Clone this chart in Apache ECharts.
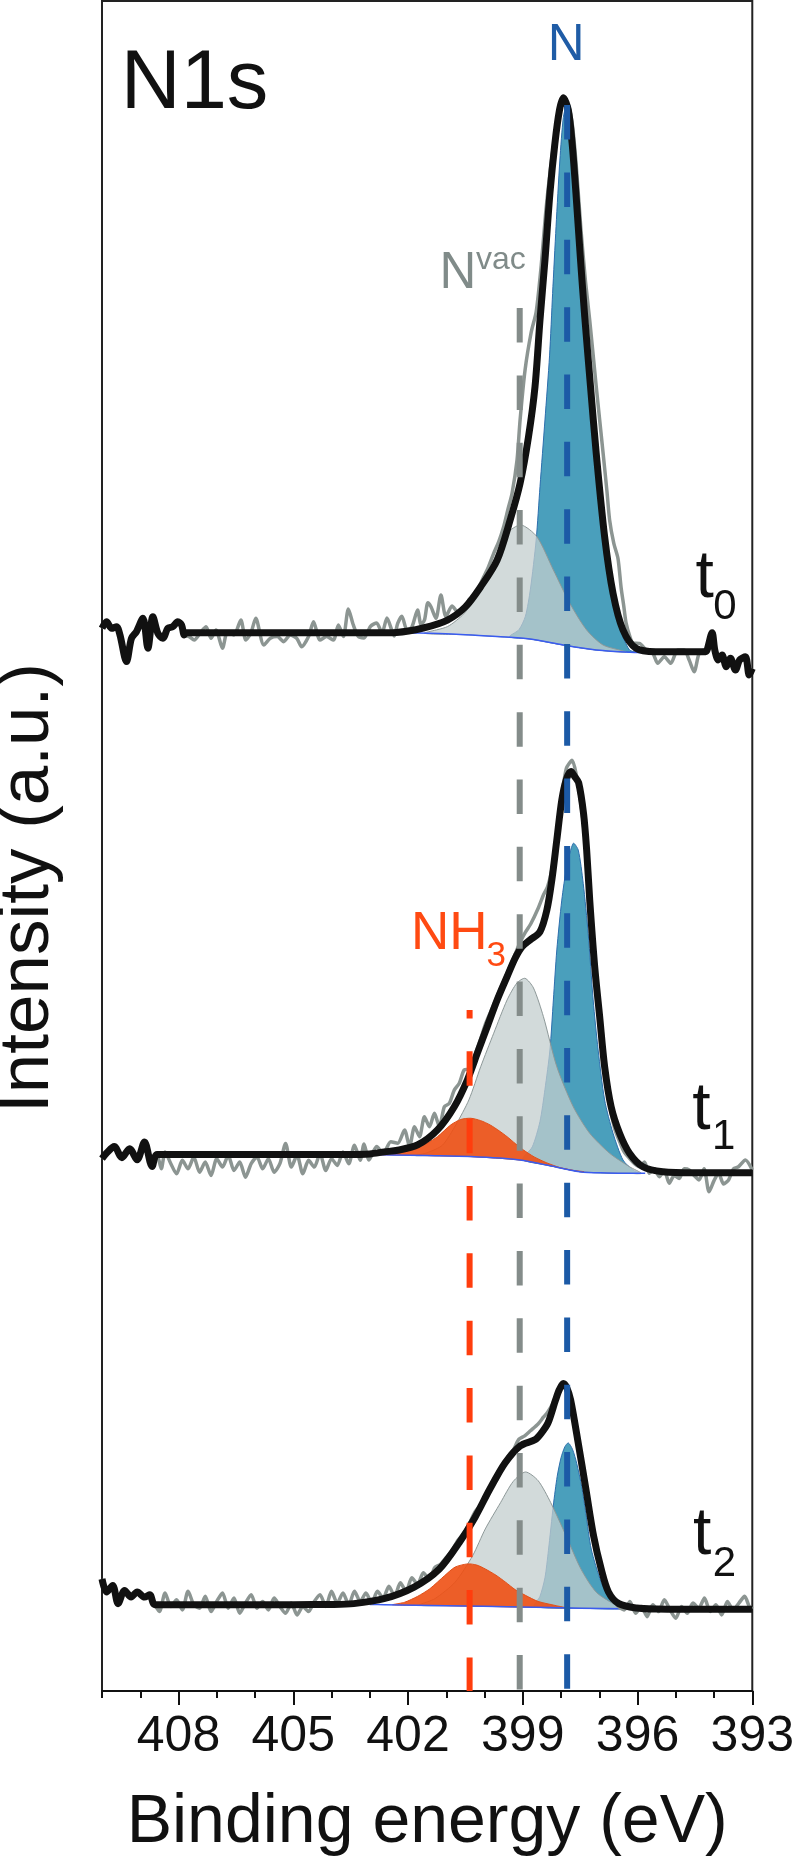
<!DOCTYPE html>
<html><head><meta charset="utf-8">
<script src="https://cdn.jsdelivr.net/npm/echarts@6/dist/echarts.min.js"></script>
<style>html,body{margin:0;padding:0;background:#fff}#c{width:797px;height:1870px}</style>
</head><body><div id="c"></div>
<script>
const FONT = "'Liberation Sans', Arial, Helvetica, sans-serif";

// ---- axis ticks ----
const xMajorTicks = [393, 396, 399, 402, 405, 408];
const xMinorTicks = [393, 394, 395, 396, 397, 398, 399, 400, 401, 402, 403, 404, 405, 406, 407, 408, 409, 410];

// ---- reference positions (eV) and top of dashed markers (intensity units) ----
const dashX = [397.84, 399.08, 400.39];
const dashTop = [93.84, 81.83, 40.30];

// ================= t0 =================
const t0Raw = [
[410.0,62.88],[409.88,63.27],[409.75,62.88],[409.62,62.98],[409.53,62.49],[409.36,60.91],[409.23,62.29],[409.10,62.68],[408.93,63.47],[408.80,61.70],[408.67,63.57],[408.54,62.59],[408.41,62.29],[408.28,62.88],[408.15,62.98],[408.02,63.27],[407.92,63.08],[407.85,62.49],
[407.72,62.39],[407.59,62.19],[407.41,62.68],[407.28,62.98],[407.15,62.29],[407.02,62.78],[406.85,61.70],[406.72,62.68],[406.55,62.49],[406.37,63.37],[406.24,62.19],[406.11,62.59],[405.98,63.47],[405.77,61.89],[405.60,62.29],[405.42,62.39],[405.25,62.09],[405.08,62.49],[404.91,62.29],[404.78,61.79],[404.60,62.39],[404.47,63.27],[404.30,62.19],[404.13,62.39],[403.95,62.19],[403.82,63.08],[403.69,62.39],[403.56,64.02],[403.43,63.08],[403.30,62.40],[403.15,62.31],[402.98,63.00],[402.82,63.20],[402.68,62.60],[402.55,63.49],[402.36,62.43],[402.27,63.17],[402.16,63.60],[402.03,62.80],[401.90,62.96],[401.75,63.96],[401.66,63.10],[401.57,63.37],[401.48,64.40],[401.40,64.16],[401.27,63.47],[401.14,64.85],[401.01,63.57],[400.85,64.20],[400.68,63.80],[400.53,63.96],[400.40,64.60],[400.27,64.75],[400.15,65.30],[400.02,65.93],[399.90,66.50],[399.76,67.32],[399.63,68.00],[399.50,68.89],[399.39,69.90],[399.28,70.87],[399.15,72.84],[399.07,75.21],[398.94,78.17],[398.78,80.40],[398.65,81.60],[398.52,84.30],[398.40,87.50],[398.28,90.00],[398.14,92.30],[398.02,93.60],[397.90,94.14],[397.80,93.80],[397.70,92.60],[397.60,90.20],[397.48,86.50],[397.36,83.40],[397.25,81.12],[397.08,77.20],[396.90,73.24],[396.80,71.00],[396.73,69.29],[396.62,67.90],[396.51,67.00],[396.43,65.30],[396.36,64.20],[396.30,63.20],[396.20,62.40],[396.12,62.00],[395.95,61.99],[395.78,61.60],[395.60,61.40],[395.47,60.81],[395.30,61.20],[395.13,60.81],[394.95,61.60],[394.78,61.60],[394.65,61.01],[394.52,60.31],[394.39,61.40],[394.26,61.60],[394.18,61.60],[394.05,62.62],[393.98,61.60],[393.89,61.01],[393.79,61.30],[393.68,60.61],[393.57,61.11],[393.44,60.41],[393.33,61.01],[393.18,61.20],[393.08,60.12],[393.00,60.50]
];
const t0Fit = [
[410.0,62.88],[409.88,63.27],[409.75,62.88],[409.62,62.98],[409.53,62.49],[409.36,60.91],[409.23,62.29],[409.10,62.68],[408.93,63.47],[408.80,61.70],[408.67,63.57],[408.54,62.59],[408.41,62.29],[408.28,62.88],[408.15,62.98],[408.02,63.27],[407.92,63.08],[407.85,62.49],[407.80,62.62],[406.5,62.62],[405.0,62.62],[403.6,62.62],[402.9,62.62],[402.3,62.64],[401.6,62.90],[400.97,63.37],[400.50,64.15],[400.10,65.34],[399.67,66.92],[399.33,69.29],[399.07,71.46],[398.85,74.22],[398.68,77.18],[398.55,81.12],[398.42,84.67],[398.29,88.62],[398.16,91.58],[398.04,93.55],[397.94,94.28],[397.81,93.55],[397.71,91.58],[397.61,88.62],[397.49,84.67],[397.38,81.32],[397.23,77.20],[397.08,73.24],[396.86,68.30],[396.64,64.95],[396.38,62.78],[396.04,61.70],[395.52,61.50],[394.80,61.50],[394.22,61.50],[394.18,61.60],[394.05,62.62],[393.98,61.60],[393.89,61.01],[393.79,61.30],[393.68,60.61],[393.57,61.11],[393.44,60.41],[393.33,61.01],[393.18,61.20],[393.08,60.12],[393.00,60.50]
];
const t0Bg = [[403.0,62.62],[401.7,62.60],[400.5,62.50],[399.67,62.39],[398.81,62.25],[397.94,61.89],[397.08,61.60],[396.2,61.47],[395.5,61.45]];
const t0Nvac = [[401.57,62.59],[400.97,62.98],[400.53,63.77],[400.10,65.15],[399.76,66.92],[399.41,68.50],[399.05,69.00],[398.63,68.30],[398.20,66.33],[397.77,64.36],[397.33,62.78],[396.90,61.89],[396.30,61.48]];
const t0N = [[399.35,62.38],[399.10,62.80],[398.93,63.60],[398.80,65.20],[398.65,68.11],[398.55,71.26],[398.42,75.21],[398.30,79.00],[398.22,82.70],[398.13,86.65],[398.03,90.59],[397.94,93.10],[397.85,93.85],[397.76,93.00],[397.68,90.59],[397.55,86.65],[397.46,83.30],[397.38,80.60],[397.16,75.21],[396.99,71.26],[396.81,67.32],[396.64,64.36],[396.38,62.39],[396.21,61.60],[396.05,61.46]];

// ================= t1 =================
const t1Raw = [
[410.0,31.50],[409.88,31.83],[409.68,32.22],[409.48,31.56],[409.28,32.09],[409.08,31.43],[408.89,32.49],[408.69,31.04],[408.56,31.75],[408.45,30.90],[408.35,31.90],[408.20,31.20],[408.05,30.60],[407.90,31.40],[407.75,30.90],[407.60,31.60],[407.45,30.70],[407.30,31.30],[407.15,30.50],[407.00,31.50],[406.85,31.00],[406.70,31.70],[406.55,30.80],[406.40,31.30],[406.25,30.40],[406.10,31.20],[405.95,31.60],[405.80,30.90],[405.65,31.50],[405.50,30.70],[405.35,31.20],[405.20,32.40],[405.05,31.00],[404.90,31.70],[404.75,30.60],[404.60,31.40],[404.45,31.00],[404.30,31.80],[404.15,30.80],[404.00,31.50],[403.85,31.10],[403.70,31.90],[403.55,31.20],[403.40,32.30],[403.25,31.40],[403.15,32.37],[403.02,31.42],[402.82,32.22],[402.65,31.80],[402.45,32.50],[402.27,32.41],[402.09,33.20],[401.96,32.21],[401.83,33.39],[401.70,32.80],[401.57,33.98],[401.44,33.39],[401.31,34.18],[401.18,33.39],[401.05,34.57],[400.92,34.77],[400.79,35.56],[400.66,35.96],[400.53,36.75],[400.40,36.80],[400.27,37.50],[400.10,38.60],[399.97,39.50],[399.80,40.40],[399.67,41.10],[399.50,42.00],[399.33,42.90],[399.20,43.60],[399.07,44.30],[398.93,44.90],[398.79,45.40],[398.60,46.30],[398.46,47.10],[398.35,47.60],[398.24,48.60],[398.11,50.60],[397.98,52.90],[397.86,54.60],[397.71,55.07],[397.60,54.20],[397.48,52.50],[397.38,50.50],[397.28,47.60],[397.16,44.00],[397.03,40.60],[396.90,37.60],[396.75,35.00],[396.60,33.30],[396.45,32.40],[396.35,31.90],[396.21,31.52],[396.08,31.20],[395.95,31.02],[395.82,31.30],[395.69,30.63],[395.56,30.90],[395.43,30.43],[395.30,30.80],[395.17,30.04],[395.04,30.50],[394.91,30.33],[394.78,30.90],[394.65,30.83],[394.52,30.50],[394.39,30.24],[394.26,30.90],[394.13,29.54],[394.00,30.20],[393.88,30.63],[393.75,30.00],[393.62,30.24],[393.49,30.90],[393.36,31.02],[393.18,31.42],[393.00,30.83]
];
const t1Fit = [
[410.0,31.50],[409.88,31.83],[409.68,32.22],[409.48,31.56],[409.28,32.09],[409.08,31.43],[408.89,32.49],[408.69,31.04],[408.56,31.75],[408.0,31.75],[406.5,31.75],[405.0,31.75],[403.6,31.75],[403.0,31.78],[402.62,31.90],[402.27,32.00],[401.75,32.31],[401.23,33.20],[400.79,34.57],[400.45,36.15],[400.19,37.73],[399.93,39.31],[399.67,40.89],[399.41,42.27],[399.20,43.36],[399.02,44.04],[398.81,44.44],[398.55,44.93],[398.37,46.21],[398.24,47.99],[398.11,50.36],[397.98,52.72],[397.86,53.95],[397.74,54.41],[397.64,54.10],[397.54,53.75],[397.41,51.90],[397.33,49.76],[397.25,46.80],[397.12,42.86],[396.99,39.90],[396.86,36.94],[396.69,34.57],[396.47,33.00],[396.21,31.82],[395.86,31.02],[395.34,30.73],[394.5,30.67],[393.0,30.67]
];
const t1Bg = [[403.0,31.75],[402.44,31.72],[401.5,31.68],[400.36,31.62],[399.07,31.42],[398.37,31.12],[397.51,30.73],[396.8,30.65],[396.21,30.63],[395.8,30.63]];
const t1NH3 = [[402.70,31.73],[402.20,31.90],[401.83,32.11],[401.50,32.42],[401.23,32.80],[400.88,33.50],[400.62,33.82],[400.36,33.89],[400.10,33.75],[399.85,33.49],[399.62,33.15],[399.41,32.80],[399.20,32.40],[398.98,32.01],[398.70,31.60],[398.37,31.25],[398.00,30.95],[397.68,30.80],[397.40,30.73]];
const t1Nvac = [[401.80,31.68],[401.50,31.85],[401.10,32.30],[400.75,33.50],[400.41,34.97],[400.10,36.94],[399.76,38.92],[399.41,40.89],[399.15,41.90],[398.94,42.17],[398.72,41.60],[398.46,39.90],[398.11,36.94],[397.68,34.57],[397.25,33.00],[396.73,31.82],[396.21,31.02],[395.90,30.63]];
const t1N = [[399.00,31.45],[398.75,32.20],[398.55,33.70],[398.42,35.60],[398.29,37.93],[398.20,40.89],[398.11,43.85],[397.98,46.80],[397.85,48.78],[397.68,50.16],[397.55,49.76],[397.42,47.79],[397.29,44.83],[397.16,40.89],[397.03,37.93],[396.86,34.97],[396.64,33.00],[396.38,31.42],[396.12,30.83],[395.95,30.63]];

// ================= t2 =================
const t2Raw = [
[410.0,6.63],[409.88,5.86],[409.72,6.24],[409.58,5.17],[409.41,5.95],[409.24,5.56],[409.08,5.86],[408.89,5.56],[408.75,5.69],[408.62,5.11],[408.50,4.70],[408.35,5.80],[408.20,5.00],[408.05,5.40],[407.90,4.80],[407.75,5.90],[407.60,5.10],[407.45,4.90],[407.30,5.60],[407.15,4.70],[407.00,5.30],[406.85,5.80],[406.70,4.90],[406.55,5.50],[406.40,4.60],[406.25,5.20],[406.10,5.70],[405.95,4.90],[405.80,5.30],[405.65,4.80],[405.50,5.50],[405.35,5.00],[405.20,4.60],[405.05,5.20],[404.90,4.50],[404.75,5.00],[404.60,4.70],[404.45,5.30],[404.30,5.70],[404.15,5.00],[404.00,5.90],[403.85,5.20],[403.70,5.80],[403.55,5.10],[403.40,5.90],[403.25,5.30],[403.10,5.80],[402.95,5.20],[402.80,5.90],[402.65,5.50],[402.50,6.20],[402.35,5.60],[402.20,6.40],[402.05,5.90],[401.90,6.70],[401.75,6.30],[401.60,7.00],[401.45,6.60],[401.30,7.30],[401.15,7.50],[401.00,7.90],[400.85,8.30],[400.70,8.90],[400.55,9.30],[400.40,9.90],[400.25,10.60],[400.10,11.00],[399.95,11.60],[399.80,12.20],[399.65,12.60],[399.50,13.40],[399.35,14.00],[399.24,14.30],[399.10,14.90],[398.95,15.10],[398.80,15.40],[398.60,15.80],[398.46,16.20],[398.35,16.50],[398.22,17.00],[398.10,17.60],[397.98,18.10],[397.88,18.00],[397.78,17.20],[397.66,15.90],[397.55,14.60],[397.42,13.00],[397.30,11.40],[397.18,9.90],[397.05,8.40],[396.92,7.00],[396.80,6.00],[396.65,5.40],[396.50,5.00],[396.35,4.80],[396.20,5.30],[396.05,4.60],[395.90,5.00],[395.75,4.40],[395.60,5.10],[395.45,4.70],[395.30,5.40],[395.15,4.80],[395.00,4.30],[394.85,5.00],[394.70,4.60],[394.55,5.20],[394.40,4.90],[394.25,5.50],[394.10,4.70],[393.95,5.10],[393.80,4.50],[393.65,5.30],[393.50,4.80],[393.35,5.20],[393.20,5.60],[393.05,4.90],[393.00,5.00]
];
const t2Fit = [
[410.0,6.63],[409.88,5.86],[409.72,6.24],[409.58,5.17],[409.41,5.95],[409.24,5.56],[409.08,5.86],[408.89,5.56],[408.75,5.69],[408.62,5.11],[408.0,5.11],[406.5,5.11],[405.0,5.11],[404.0,5.12],[403.42,5.17],[402.63,5.46],[401.84,6.15],[401.18,7.22],[400.65,8.82],[400.25,10.27],[399.86,11.95],[399.46,13.50],[399.07,14.50],[398.67,14.88],[398.50,15.30],[398.34,15.86],[398.14,17.24],[398.04,17.85],[397.94,18.20],[397.85,17.95],[397.75,17.23],[397.55,14.67],[397.35,11.95],[397.15,9.19],[396.95,7.22],[396.76,5.86],[396.49,5.17],[396.03,4.91],[395.5,4.85],[394.0,4.83],[393.0,4.83]
];
const t2Bg = [[403.0,5.12],[402.63,5.11],[401.0,5.05],[399.07,4.97],[397.5,4.90],[396.3,4.86],[395.9,4.85]];
const t2NH3 = [[402.40,5.10],[402.09,5.25],[401.75,5.60],[401.43,6.05],[401.04,6.83],[400.77,7.33],[400.44,7.52],[400.20,7.45],[399.98,7.22],[399.70,6.85],[399.45,6.44],[399.20,6.00],[398.93,5.66],[398.60,5.30],[398.13,5.05],[397.90,4.93]];
const t2Nvac = [[401.70,5.08],[401.30,5.46],[400.77,6.44],[400.31,8.01],[399.98,9.59],[399.58,11.15],[399.25,12.40],[398.93,12.96],[398.60,12.45],[398.27,11.15],[397.87,9.19],[397.48,7.22],[397.08,5.85],[396.55,5.07],[396.25,4.86]];
const t2N = [[398.70,5.00],[398.55,5.60],[398.42,6.70],[398.33,8.30],[398.20,11.00],[398.10,12.70],[398.00,13.80],[397.90,14.45],[397.81,14.68],[397.70,14.30],[397.59,13.47],[397.46,12.10],[397.35,10.50],[397.21,8.40],[396.95,6.44],[396.68,5.27],[396.40,4.88]];

// ---------------- styles ----------------
const C = {
  fit: '#111111', raw: '#8c9592', bg: '#3a5cf0',
  nFill: '#4a9fbc', nEdge: '#2d6fae',
  vacFill: 'rgba(195,205,205,0.75)', vacEdge: '#8d9898',
  nh3Fill: 'rgba(238,80,20,0.9)', nh3Edge: '#e0501a',
  dashN: '#1c5aa6', dashVac: '#848c8a', dashNH3: '#ff3d0d'
};

function fillSeries(comp, bg, fill, stroke, z) {
  return {
    type: 'custom', coordinateSystem: 'cartesian2d', z: z, silent: true,
    data: comp, encode: { x: 0, y: 1 },
    renderItem: function (params, api) {
      if (params.dataIndex !== 0) return null;
      const a = comp[0][0], b = comp[comp.length - 1][0];
      const lo = Math.min(a, b), hi = Math.max(a, b);
      const bgIn = bg.filter(p => p[0] > lo && p[0] < hi).slice().reverse();
      const pts = comp.map(p => api.coord(p)).concat(bgIn.map(p => api.coord(p)));
      return { type: 'polygon', shape: { points: pts, smooth: 0.25 },
               style: { fill: fill, stroke: stroke, lineWidth: 1 } };
    }
  };
}
function lineSeries(data, color, width, z, smooth) {
  return { type: 'line', data: data, z: z, silent: true, showSymbol: false, symbol: 'none',
           smooth: smooth, lineStyle: { color: color, width: width, join: 'round' } };
}
function dashSeries(x, top, color, offset, z) {
  return { type: 'line', data: [[x, top], [x, 0]], z: z, silent: true, showSymbol: false, symbol: 'none',
           lineStyle: { color: color, width: 6, type: [34.5, 32.85], dashOffset: offset, cap: 'butt' } };
}

const series = [
  fillSeries(t0N, t0Bg, C.nFill, C.nEdge, 1),
  fillSeries(t1N, t1Bg, C.nFill, C.nEdge, 1),
  fillSeries(t2N, t2Bg, C.nFill, C.nEdge, 1),
  fillSeries(t0Nvac, t0Bg, C.vacFill, C.vacEdge, 2),
  fillSeries(t1Nvac, t1Bg, C.vacFill, C.vacEdge, 2),
  fillSeries(t2Nvac, t2Bg, C.vacFill, C.vacEdge, 2),
  fillSeries(t1NH3, t1Bg, C.nh3Fill, C.nh3Edge, 3),
  fillSeries(t2NH3, t2Bg, C.nh3Fill, C.nh3Edge, 3),
  lineSeries(t0Bg, C.bg, 1.5, 4, 0.3),
  lineSeries(t1Bg, C.bg, 1.5, 4, 0.3),
  lineSeries(t2Bg, C.bg, 1.5, 4, 0.3),
  lineSeries(t0Raw, C.raw, 3.5, 5, 0.25),
  lineSeries(t1Raw, C.raw, 3.5, 5, 0.25),
  lineSeries(t2Raw, C.raw, 3.5, 5, 0.25),
  lineSeries(t0Fit, C.fit, 7, 6, 0.3),
  lineSeries(t1Fit, C.fit, 7, 6, 0.3),
  lineSeries(t2Fit, C.fit, 7, 6, 0.3),
  dashSeries(dashX[0], dashTop[0], C.dashN, 0, 7),
  dashSeries(dashX[1], dashTop[1], C.dashVac, 0, 7),
  dashSeries(dashX[2], dashTop[2], C.dashNH3, 26, 7)
];

function txt(x, y, text, size, color, align, rot) {
  const el = { type: 'text', x: x, y: y, z: 100, silent: true,
    style: { text: text, fontSize: size, fontFamily: FONT, fill: color, align: align || 'left', verticalAlign: 'middle' } };
  if (rot) el.rotation = rot;
  return el;
}

const option = {
  animation: false,
  backgroundColor: '#ffffff',
  grid: { left: 102, right: 40, top: 1, bottom: 179, show: true, borderColor: '#222', borderWidth: 2, backgroundColor: 'transparent' },
  xAxis: [
    { type: 'value', min: 393, max: 410, inverse: true, position: 'bottom',
      axisLine: { show: true, onZero: false, lineStyle: { color: '#111', width: 2 } },
      axisTick: { show: true, customValues: xMajorTicks, length: 14, inside: false, lineStyle: { color: '#111', width: 2 } },
      axisLabel: { show: true, customValues: xMajorTicks, fontSize: 50, fontFamily: FONT, color: '#111', margin: 21 },
      splitLine: { show: false },
      name: 'Binding energy (eV)', nameLocation: 'middle', nameGap: 98,
      nameTextStyle: { fontSize: 68, fontFamily: FONT, color: '#111' } },
    { type: 'value', min: 393, max: 410, inverse: true, position: 'bottom', gridIndex: 0,
      axisLine: { show: false, onZero: false },
      axisTick: { show: true, customValues: xMinorTicks, length: 7, inside: false, lineStyle: { color: '#111', width: 2 } },
      axisLabel: { show: false }, splitLine: { show: false } }
  ],
  yAxis: { type: 'value', min: 0, max: 100, show: false, splitLine: { show: false } },
  series: series,
  graphic: { elements: [
    txt(120.7, 85.2, 'N1s', 83, '#111'),
    txt(566.2, 45.6, 'N', 51, '#1f5ca6', 'center'),
    txt(439.4, 274.0, 'N', 51, '#808b89'),
    txt(476.0, 260.6, 'vac', 32, '#808b89'),
    txt(411.0, 934.6, 'NH', 53, '#ff4a12'),
    txt(486.6, 955.9, '3', 35, '#ff4a12'),
    txt(695.6, 578.8, 't', 66, '#111'),
    txt(713.3, 607.1, '0', 42, '#111'),
    txt(692.2, 1110.4, 't', 66, '#111'),
    txt(712.1, 1137.2, '1', 42, '#111'),
    txt(693.0, 1536.1, 't', 66, '#111'),
    txt(712.7, 1564.4, '2', 42, '#111'),
    txt(28.8, 888, 'Intensity (a.u.)', 71, '#111', 'center', Math.PI / 2)
  ] }
};

const chart = echarts.init(document.getElementById('c'), null, { renderer: 'canvas', width: 797, height: 1870 });
chart.setOption(option);
</script></body></html>
